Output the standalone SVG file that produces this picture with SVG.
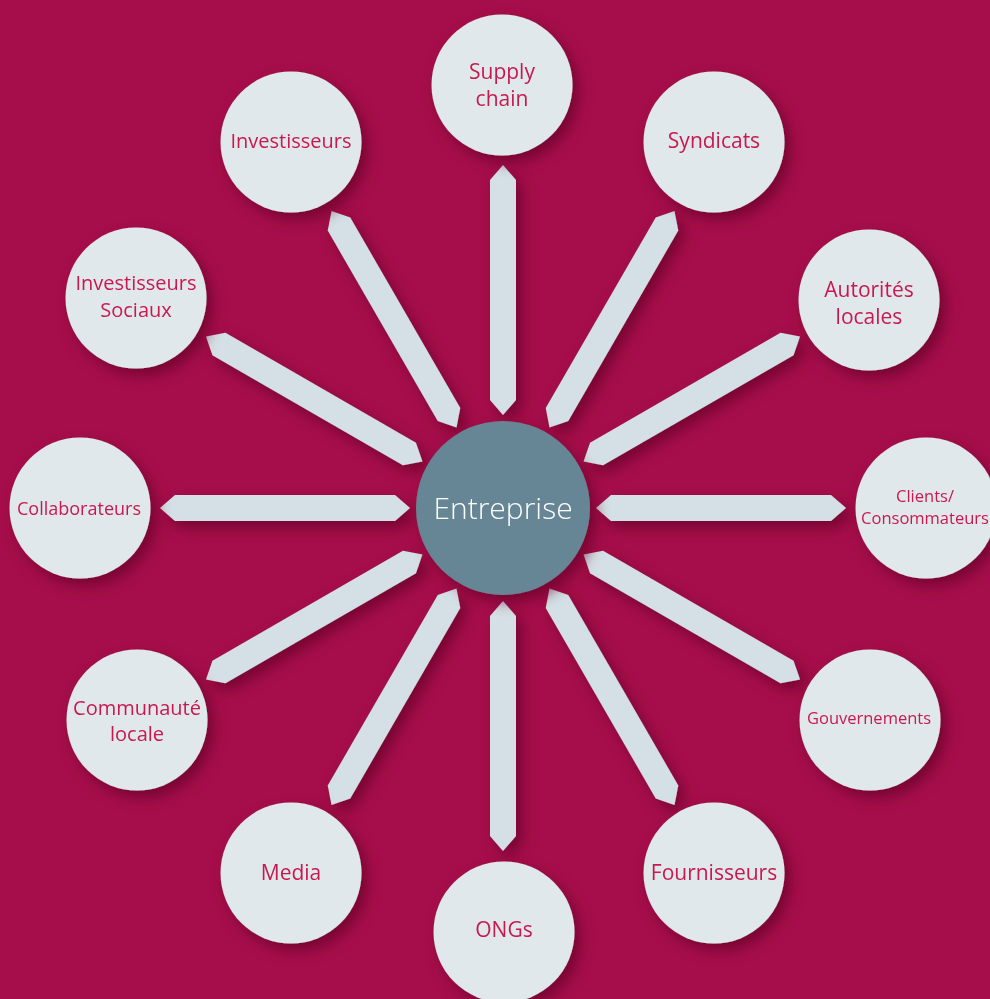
<svg xmlns="http://www.w3.org/2000/svg" xmlns:xlink="http://www.w3.org/1999/xlink" width="990" height="999" viewBox="0 0 990 999">
<defs>
<filter id="sh" x="-25%" y="-25%" width="160%" height="160%">
<feDropShadow dx="6" dy="7" stdDeviation="7" flood-color="#5c0024" flood-opacity="0.65"/>
</filter>
<polygon id="arr" points="0,-343 13,-328 13,-108 0,-93 -13,-108 -13,-328"/>
<style>
.bg{fill:#A60E4B}
.n{fill:#E1E8EB}
.a{fill:#D5E0E6}
.t{font-family:"Open Sans","Liberation Sans",sans-serif;fill:#C8194F;text-anchor:middle;font-size:21px}
.c{font-family:"Open Sans","Liberation Sans",sans-serif;fill:#FFFFFF;text-anchor:middle;font-size:30px;font-weight:300}
</style>
</defs>
<rect class="bg" x="0" y="0" width="990" height="999"/>
<g id="connectors" class="a" filter="url(#sh)">
<use xlink:href="#arr" transform="translate(503,508) rotate(0)"/>
<use xlink:href="#arr" transform="translate(503,508) rotate(30)"/>
<use xlink:href="#arr" transform="translate(503,508) rotate(60)"/>
<use xlink:href="#arr" transform="translate(503,508) rotate(90)"/>
<use xlink:href="#arr" transform="translate(503,508) rotate(120)"/>
<use xlink:href="#arr" transform="translate(503,508) rotate(150)"/>
<use xlink:href="#arr" transform="translate(503,508) rotate(180)"/>
<use xlink:href="#arr" transform="translate(503,508) rotate(210)"/>
<use xlink:href="#arr" transform="translate(503,508) rotate(240)"/>
<use xlink:href="#arr" transform="translate(503,508) rotate(270)"/>
<use xlink:href="#arr" transform="translate(503,508) rotate(300)"/>
<use xlink:href="#arr" transform="translate(503,508) rotate(330)"/>
</g>
<g id="entreprise">
<circle cx="503" cy="508" r="87" fill="#668695" filter="url(#sh)"/>
<text class="c" x="503" y="519">Entreprise</text>
</g>
<g id="supply-chain">
<circle class="n" cx="502" cy="85" r="70.5" filter="url(#sh)"/>
<text class="t" x="502" y="79">Supply</text>
<text class="t" x="502" y="106">chain</text>
</g>
<g id="syndicats">
<circle class="n" cx="714" cy="142" r="70.5" filter="url(#sh)"/>
<text class="t" x="714" y="148">Syndicats</text>
</g>
<g id="autorites-locales">
<circle class="n" cx="869" cy="300" r="70.5" filter="url(#sh)"/>
<text class="t" x="869" y="297">Autorités</text>
<text class="t" x="869" y="324">locales</text>
</g>
<g id="clients">
<circle class="n" cx="926" cy="508" r="70.5" filter="url(#sh)"/>
<text class="t" x="925" y="502" style="font-size:16.5px">Clients/</text>
<text class="t" x="925" y="524" style="font-size:16.5px">Consommateurs</text>
</g>
<g id="gouvernements">
<circle class="n" cx="870" cy="720" r="70.5" filter="url(#sh)"/>
<text class="t" x="869" y="724" style="font-size:16.5px">Gouvernements</text>
</g>
<g id="fournisseurs">
<circle class="n" cx="714" cy="873" r="70.5" filter="url(#sh)"/>
<text class="t" x="714" y="880">Fournisseurs</text>
</g>
<g id="ongs">
<circle class="n" cx="504" cy="932" r="70.5" filter="url(#sh)"/>
<text class="t" x="504" y="937">ONGs</text>
</g>
<g id="media">
<circle class="n" cx="291" cy="873" r="70.5" filter="url(#sh)"/>
<text class="t" x="291" y="880">Media</text>
</g>
<g id="communaute-locale">
<circle class="n" cx="137" cy="720" r="70.5" filter="url(#sh)"/>
<text class="t" x="137" y="715" style="font-size:20px">Communauté</text>
<text class="t" x="137" y="741" style="font-size:20px">locale</text>
</g>
<g id="collaborateurs">
<circle class="n" cx="80" cy="508" r="70.5" filter="url(#sh)"/>
<text class="t" x="79" y="515" style="font-size:18px">Collaborateurs</text>
</g>
<g id="investisseurs-sociaux">
<circle class="n" cx="136" cy="298" r="70.5" filter="url(#sh)"/>
<text class="t" x="136" y="290" style="font-size:20px">Investisseurs</text>
<text class="t" x="136" y="317" style="font-size:20px">Sociaux</text>
</g>
<g id="investisseurs">
<circle class="n" cx="291" cy="142" r="70.5" filter="url(#sh)"/>
<text class="t" x="291" y="148" style="font-size:20px">Investisseurs</text>
</g>
</svg>
